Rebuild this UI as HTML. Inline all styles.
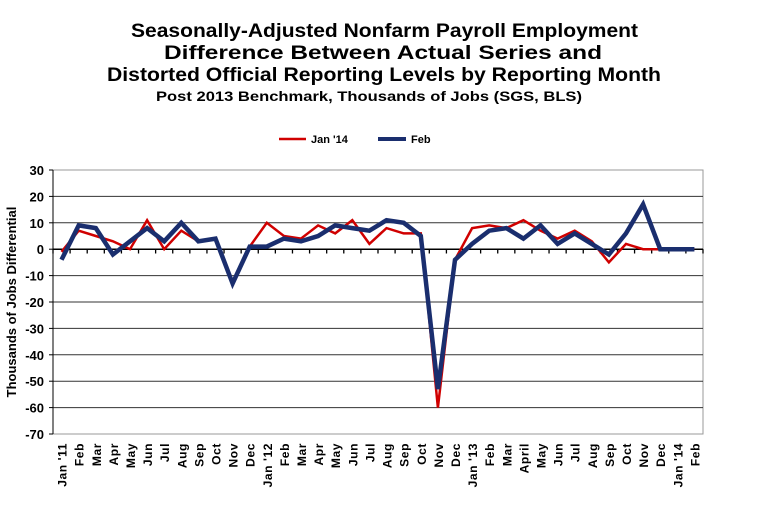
<!DOCTYPE html>
<html><head><meta charset="utf-8"><style>
html,body{margin:0;padding:0;background:#fff;}
body{width:766px;height:504px;overflow:hidden;font-family:"Liberation Sans",Arial,sans-serif;}
</style></head><body>
<svg id="c" width="766" height="504" xmlns="http://www.w3.org/2000/svg" font-family="Liberation Sans, Arial, sans-serif">
<text x="131" y="37" textLength="507" lengthAdjust="spacingAndGlyphs" font-size="19" font-weight="bold">Seasonally-Adjusted Nonfarm Payroll Employment</text>
<text x="164" y="59" textLength="438" lengthAdjust="spacingAndGlyphs" font-size="19" font-weight="bold">Difference Between Actual Series and</text>
<text x="107" y="81" textLength="554" lengthAdjust="spacingAndGlyphs" font-size="19" font-weight="bold">Distorted Official Reporting Levels by Reporting Month</text>
<text x="156" y="101" textLength="426" lengthAdjust="spacingAndGlyphs" font-size="14" font-weight="bold">Post 2013 Benchmark, Thousands of Jobs (SGS, BLS)</text>
<line x1="279" y1="139" x2="306" y2="139" stroke="#d00000" stroke-width="2.5"/>
<text x="311" y="143" font-size="11" font-weight="bold">Jan '14</text>
<line x1="378" y1="139" x2="406" y2="139" stroke="#1a2e6e" stroke-width="4"/>
<text x="411" y="143" font-size="11" font-weight="bold">Feb</text>
<rect x="53" y="170" width="650" height="264" fill="none" stroke="#999" stroke-width="1"/>
<g id="g"></g>
<text transform="translate(16,302) rotate(-90)" text-anchor="middle" font-size="13" font-weight="bold">Thousands of Jobs Differential</text>
</svg>
<script>
var g=document.getElementById('g'),h='';
function Y(v){return 249.2-2.64*v;}
function X(i){return 61.55+17.105*i;}
for(var v=30;v>=-70;v-=10){var y=Y(v);
 if(v!==0&&v!==-70&&v!==30)h+='<line x1="53" y1="'+y+'" x2="703" y2="'+y+'" stroke="#333" stroke-width="1"/>';
 h+='<line x1="49" y1="'+y+'" x2="53" y2="'+y+'" stroke="#000"/>';
 h+='<text x="44" y="'+(y+5)+'" text-anchor="end" font-size="13" font-weight="bold">'+v+'</text>';}
h+='<line x1="53" y1="170" x2="53" y2="434" stroke="#000"/>';
h+='<line x1="53" y1="249.2" x2="703" y2="249.2" stroke="#000" stroke-width="1.5"/>';
for(var i=0;i<=38;i++){var x=53+17.105*i;h+='<line x1="'+x+'" y1="249.2" x2="'+x+'" y2="253.5" stroke="#000" stroke-width="1.3"/>';}
var labs=["Jan '11","Feb","Mar","Apr","May","Jun","Jul","Aug","Sep","Oct","Nov","Dec","Jan '12","Feb","Mar","Apr","May","Jun","Jul","Aug","Sep","Oct","Nov","Dec","Jan '13","Feb","Mar","April","May","Jun","Jul","Aug","Sep","Oct","Nov","Dec","Jan '14","Feb"];
for(var i=0;i<labs.length;i++){var x=X(i)+5;h+='<text transform="translate('+x+',443) rotate(-90)" text-anchor="end" font-size="12" font-weight="bold" letter-spacing="0.6">'+labs[i]+'</text>';}
var r=[-1,7,5,3,0,11,0,7,3,4,-13,1,10,5,4,9,6,11,2,8,6,6,-60,-4,8,9,8,11,7,4,7,3,-5,2,0,0,0,0];
var b=[-4,9,8,-2,3,8,3,10,3,4,-13,1,1,4,3,5,9,8,7,11,10,5,-53,-4,2,7,8,4,9,2,6,2,-2,6,17,0,0,0];
function pts(a){return a.map(function(v,i){return X(i).toFixed(1)+','+Y(v).toFixed(1)}).join(' ');}
h+='<polyline points="'+pts(r)+'" fill="none" stroke="#d00000" stroke-width="2.5" stroke-linejoin="miter"/>';
h+='<polyline points="'+pts(b)+'" fill="none" stroke="#1a2e6e" stroke-width="4.5" stroke-linejoin="miter"/>';
g.innerHTML=h;
</script>
</body></html>
